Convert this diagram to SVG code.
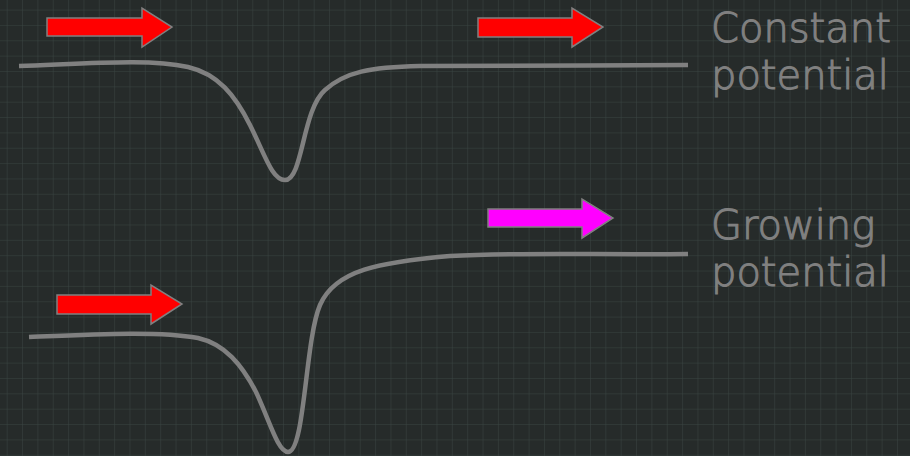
<svg xmlns="http://www.w3.org/2000/svg" width="910" height="456" viewBox="0 0 910 456">
<style>
.curve{fill:none;stroke:#808080;stroke-width:4.5;stroke-linecap:butt}
.arrow{stroke:#808080;stroke-width:1.5;stroke-linejoin:miter}
.label{font-family:"DejaVu Sans","Liberation Sans",sans-serif;font-size:40px;font-weight:200;fill:#808080;stroke:#808080;stroke-width:1.1}
</style>
<defs>
<pattern id="grid" patternUnits="userSpaceOnUse" x="6.7" y="9.6" width="15.35" height="15.35">
<path d="M0,0 H15.35 M0,0 V15.35" fill="none" stroke="#3a4542" stroke-width="1"/>
</pattern>
</defs>
<rect width="910" height="456" fill="#262b2a"/>
<rect width="910" height="456" fill="url(#grid)"/>
<g id="connectors">
<path id="curve-top" class="curve" d="M19,66 C100,63 150,59 188,67 C218,74 235,95 250,125 C265,155 272,180 285,180 C303,180 302,110 325,90 C345,72 370,67 420,66 C500,65 600,66 688,65"/>
<path id="curve-bottom" class="curve" d="M29,337 C100,334 160,331 198,338 C225,344 242,365 256,392 C270,422 278,452 288,452 C305,452 305,340 320,305 C335,270 380,262 450,256 C520,252 600,255 688,254"/>
</g>
<g id="arrow-top-left"><polygon class="arrow" fill="#ff0000" points="47,18 142,18 142,8 172,27 142,47 142,36 47,36"/></g>
<g id="arrow-top-right"><polygon class="arrow" fill="#ff0000" points="478,18 572,18 572,8 603,27 572,47 572,37 478,37"/></g>
<g id="arrow-bottom-right"><polygon class="arrow" fill="#ff00ff" points="488,209 582,209 582,199 613,218 582,238 582,227 488,227"/></g>
<g id="arrow-bottom-left"><polygon class="arrow" fill="#ff0000" points="57,295 151,295 151,285 182,304 151,324 151,314 57,314"/></g>
<g id="label-constant"><text class="label" x="711" y="42">Constant</text><text class="label" x="711" y="89">potential</text></g>
<g id="label-growing"><text class="label" x="711" y="239">Growing</text><text class="label" x="711" y="286">potential</text></g>
</svg>
